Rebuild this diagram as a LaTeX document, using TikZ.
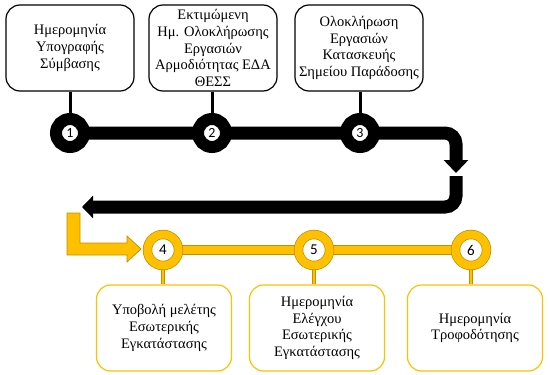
\documentclass[tikz,border=0pt]{standalone}
\usepackage{fontspec}
\setmainfont{Liberation Serif}
\newfontfamily\numfont{Carlito}
\usetikzlibrary{arrows.meta,backgrounds}
\definecolor{gold}{HTML}{FFC000}
\definecolor{golddark}{HTML}{BF9000}

\begin{document}
\begin{tikzpicture}[x=1pt, y=-1pt,
    box/.style={draw, rounded corners=14pt, line width=1.2pt, minimum width=128pt, minimum height=86pt, align=center, inner sep=1pt, font=\fontsize{14.5}{16.8}\selectfont},
    goldbox/.style={box, draw=gold, minimum width=135pt},
    blackdot/.style={circle, draw=black, fill=white, line width=12pt, minimum size=28pt, inner sep=0pt, font=\numfont\fontsize{14}{14}\selectfont},
    golddot/.style={circle, draw=golddark, double=gold, double distance=8pt, line width=0.7pt, fill=white, minimum size=31pt, inner sep=0pt, font=\numfont\fontsize{15}{15}\selectfont},
    track/.style={line width=13pt},
    goldtrack/.style={draw=golddark, double=gold, double distance=8.5pt, line width=0.7pt},
    stem/.style={line width=3pt},
    goldstem/.style={draw=golddark, double=gold, double distance=2.4pt, line width=0.6pt}
]
\useasboundingbox (0,0) rectangle (550,375);

% top milestones
\node[box] (box1) at (70,48) {Ημερομηνία\\Υπογραφής\\Σύμβασης};
\node[box] (box2) at (213,48) {Εκτιμώμενη\\Ημ. Ολοκλήρωσης\\Εργασιών\\Αρμοδιότητας ΕΔΑ\\ΘΕΣΣ};
\node[box] (box3) at (359,48) {Ολοκλήρωση\\Εργασιών\\Κατασκευής\\Σημείου Παράδοσης};

\node[blackdot] (c1) at (70,133) {1};
\node[blackdot] (c2) at (212,133) {2};
\node[blackdot] (c3) at (360,133) {3};

% bottom milestones
\node[golddot] (c4) at (163,250) {4};
\node[golddot] (c5) at (314,250) {5};
\node[golddot] (c6) at (471,250) {6};

\node[goldbox] (box4) at (164,328) {Υποβολή μελέτης\\Εσωτερικής\\Εγκατάστασης};
\node[goldbox] (box5) at (317,328) {Ημερομηνία\\Ελέγχου\\Εσωτερικής\\Εγκατάστασης};
\node[goldbox] (box6) at (475,328) {Ημερομηνία\\Τροφοδότησης};

% turn points of the black track
\coordinate (bendA) at (456,133);
\coordinate (tipA) at (456,173);
\coordinate (startB) at (456,176);
\coordinate (bendB) at (456,207);
\coordinate (tipB) at (82,207);

\begin{scope}[on background layer]
\draw[track, rounded corners=11pt, -{Triangle[length=13pt,width=24pt]}] (c1.center) -- (bendA) -- (tipA);
\draw[track, rounded corners=11pt, -{Triangle[length=11pt,width=22pt]}] (startB) -- (bendB) -- (tipB);
\draw[stem] (c1 |- box1.south) -- (c1);
\draw[stem] (c2 |- box2.south) -- (c2);
\draw[stem] (c3 |- box3.south) -- (c3);
\draw[goldtrack] (c4.center) -- (c6.center);
\draw[goldstem] (c4) -- (c4 |- box4.north);
\draw[goldstem] (c5) -- (c5 |- box5.north);
\draw[goldstem] (c6) -- (c6 |- box6.north);
\end{scope}

% yellow bent arrow
\draw[draw=golddark, fill=gold, line width=0.7pt] (67,213) -- (80,213) -- (80,243) -- (127,243) -- (127,236) -- (141,249) -- (127,262) -- (127,255) -- (67,255) -- cycle;
\end{tikzpicture}
\end{document}
